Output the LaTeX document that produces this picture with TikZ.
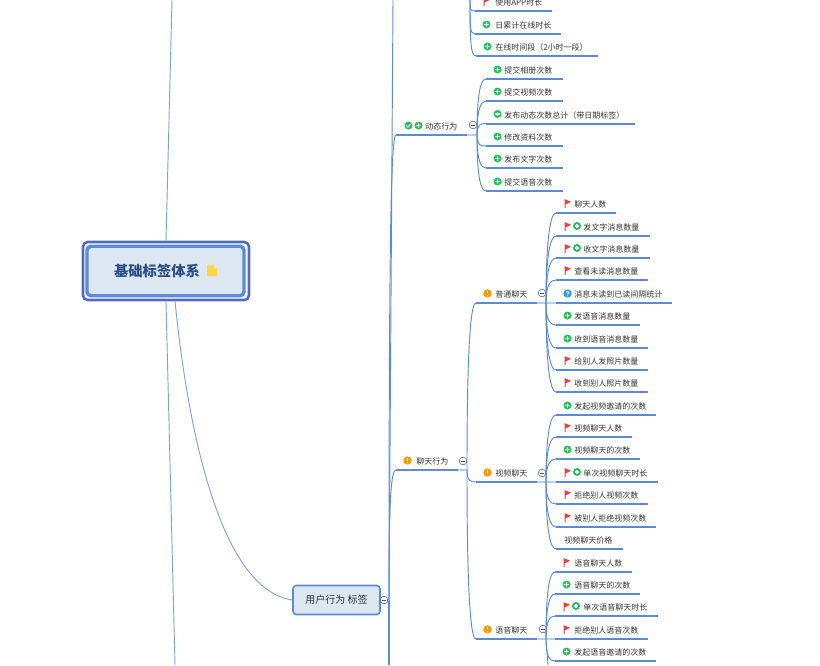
\documentclass[tikz,border=0pt]{standalone}
\usepackage{fontspec}
\setmainfont{Noto Sans CJK SC}
\definecolor{linkblue}{HTML}{7BA3DB}
\definecolor{lineblue}{HTML}{5B8BD6}
\definecolor{paleblue}{HTML}{B9CFEE}
\definecolor{frameblue}{HTML}{5468BC}
\definecolor{boxblue}{HTML}{DDE7F2}
\definecolor{titleblue}{HTML}{2A4D85}
\definecolor{okgreen}{HTML}{1FC255}
\definecolor{flagred}{HTML}{E8423F}
\definecolor{warnorange}{HTML}{F39C12}
\definecolor{askblue}{HTML}{2F9BE8}
\definecolor{noteyellow}{HTML}{FFD54F}
\newdimen\pxu
\pxu=0.75pt
\tikzset{
  leafbox/.style={anchor=south west, inner xsep=0pt, inner ysep=2.5pt, text height=4.9pt, text depth=1.1pt, font=\fontsize{6}{7}\selectfont, text=black!80},
  leafline/.style={draw=lineblue, line width=1.5pt},
  branch/.style={draw=lineblue, line width=0.7pt},
  stub/.style={draw=paleblue, line width=1.5pt},
  rootlink/.style={draw=linkblue, line width=0.7pt},
  foldmark/.style={circle, draw=black!35!lineblue, fill=white, line width=0.4pt, inner sep=0pt, minimum size=5.8pt,
    path picture={\draw[black!35!lineblue, line width=0.4pt] ([xshift=1.2pt]path picture bounding box.west) -- ([xshift=-1.2pt]path picture bounding box.east);}},
  pics/noicon/.style={code={}},
  pics/flagicon/.style={code={
    \fill[flagred] (-2.9,-4.4) -- (3.6,-1.7) -- (-1.9,0.9) -- (-1.9,4.6) -- (-3,4.6) -- cycle;}},
  pics/plusicon/.style={code={
    \fill[okgreen] (0,0) circle (4);
    \draw[white, line width=0.8pt] (-2.2,0) -- (2.2,0) (0,-2.2) -- (0,2.2);}},
  pics/checkicon/.style={code={
    \fill[okgreen] (0,0) circle (4);
    \draw[white, line width=0.7pt] (-2.1,0) -- (-0.5,1.6) -- (2.1,-1.5);}},
  pics/warnicon/.style={code={
    \fill[warnorange] (0,0) circle (4.2);
    \draw[white, line width=0.8pt] (0,-2.5) -- (0,0.8);
    \fill[white] (0,2.2) circle (0.6);}},
  pics/askicon/.style={code={
    \fill[askblue] (0,0) circle (4.2);
    \draw[white, line width=0.6pt] (-1.3,-1) .. controls (-1,-2.7) and (1.5,-2.7) .. (1.3,-0.9) .. controls (1.2,0) and (0,0) .. (0,1);
    \fill[white] (0,2.3) circle (0.5);}},
  pics/flagplus/.style={code={
    \pic at (0,0) {flagicon};
    \pic at (9.5,-0.5) {plusicon};}},
  pics/checkplus/.style={code={
    \pic at (1,0) {checkicon};
    \pic at (11,0) {plusicon};}},
  pics/noteicon/.style={code={
    \fill[noteyellow] (-5,-5.5) -- (2,-5.5) -- (5,-2.5) -- (5,5.5) -- (-5,5.5) -- cycle;
    \fill[noteyellow!50!white] (2,-5.5) -- (5,-2.5) -- (2,-2.5) -- cycle;}}
}
% name, line start, line end, line y, text indent, text, icon
\newcommand{\leaf}[7]{
  \node[leafbox, text width={(#3-#2)*\pxu}] (#1) at (#2, #4) {\mbox{\hspace*{#5\pxu}#6}};
  \draw[leafline] (#1.south west) -- (#1.south east);
  \pic at ([shift={(11.5,-9.5)}]#1.south west) {#7};
}
\begin{document}
\begin{tikzpicture}[x=0.75pt, y=-0.75pt]
  \useasboundingbox (0, 0) rectangle (820, 665);

  \node[draw=frameblue, line width=1.9pt, rounded corners=3.5pt, minimum width=166\pxu, minimum height=58\pxu] (rootframe) at (166, 271) {};
  \node[draw=lineblue, fill=boxblue, line width=2.6pt, rounded corners=3pt, minimum width=157\pxu, minimum height=49.5\pxu, text=titleblue, font=\fontsize{10.7}{12}\selectfont\bfseries] (root) at (165.5, 271) {\raisebox{-0.75pt}{基础标签体系}\hspace*{17\pxu}};
  \pic at (212, 270.5) {noteicon};
  \node[draw=lineblue, fill=boxblue, line width=1.2pt, rounded corners=2.5pt, minimum width=87\pxu, minimum height=29\pxu, text=black!80, font=\fontsize{7.5}{9}\selectfont] (behavior) at (336.5, 600) {用户行为 标签};

  \coordinate (roottop) at (172, 0);
  \coordinate (rootbottom) at (175, 665);
  \draw[rootlink] (rootframe.north) -- (roottop);
  \draw[rootlink] (rootframe.south) -- (rootbottom);
  \draw[rootlink] ([xshift=9\pxu]rootframe.south) .. controls (190, 450) and (225, 590) .. (behavior.west);

  \coordinate (behaviorjoin) at (389, 600);
  \coordinate (behaviortop) at (393, 0);
  \coordinate (behaviorbottom) at (389, 665);
  \draw[branch] (behaviorjoin) -- (behaviortop);
  \draw[leafline] (behaviorjoin) -- (behaviorbottom);
  \draw[stub] (behavior.east) -- (behaviorjoin);
  \node[foldmark] (behaviorfold) at (384, 600) {};

  \leaf{online}{475}{551}{11}{20}{使用APP时长}{flagicon}
  \leaf{dailyonline}{475}{560}{34}{20}{日累计在线时长}{plusicon}
  \leaf{onlinespan}{476}{597}{56}{19}{在线时间段（2小时一段）}{plusicon}
  \coordinate (onlinetop) at (470, 0);
  \foreach \kid in {online, dailyonline, onlinespan}
    \draw[branch] (onlinetop) to[out=270, in=180, out looseness=1.9, in distance=4pt] (\kid.south west);

  \leaf{dynamic}{396}{466}{135}{29}{动态行为}{checkplus}
  \coordinate (dynamicjoin) at (477, 135);
  \draw[stub] (dynamic.south east) -- (dynamicjoin);
  \node[foldmark] (dynamicfold) at (473, 125) {};
  \leaf{album}{486}{562}{79}{18}{提交相册次数}{plusicon}
  \leaf{videopost}{486}{562}{101}{18}{提交视频次数}{plusicon}
  \leaf{postcount}{486}{634}{123.5}{18}{发布动态次数总计（带日期标签）}{plusicon}
  \leaf{profile}{486}{562}{146}{18}{修改资料次数}{plusicon}
  \leaf{textpost}{486}{562}{168}{18}{发布文字次数}{plusicon}
  \leaf{voicepost}{486}{562}{191}{18}{提交语音次数}{plusicon}
  \foreach \kid in {album, videopost, postcount}
    \draw[branch] (dynamicjoin) to[out=90, in=180, out looseness=1.9, in distance=4pt] (\kid.south west);
  \foreach \kid in {profile, textpost, voicepost}
    \draw[branch] (dynamicjoin) to[out=270, in=180, out looseness=1.9, in distance=4pt] (\kid.south west);

  \leaf{chat}{396}{457}{470}{20}{聊天行为}{warnicon}
  \coordinate (chatjoin) at (467, 470);
  \draw[stub] (chat.south east) -- (chatjoin);
  \node[foldmark] (chatfold) at (463, 461) {};
  \foreach \kid in {dynamic, chat}
    \draw[branch] (behaviorjoin) to[out=90, in=180, out looseness=1.9, in distance=4pt] (\kid.south west);

  \leaf{normalchat}{476}{536}{303}{19}{普通聊天}{warnicon}
  \coordinate (normaljoin) at (546, 303);
  \draw[stub] (normalchat.south east) -- (556, 303);
  \node[foldmark] (normalfold) at (542, 293) {};
  \leaf{chatpeople}{556}{615}{213}{18}{聊天人数}{flagicon}
  \leaf{sendtext}{556}{649}{236}{27}{发文字消息数量}{flagplus}
  \leaf{gettext}{556}{649}{258}{27}{收文字消息数量}{flagplus}
  \leaf{unreadview}{556}{647}{280}{18}{查看未读消息数量}{flagicon}
  \leaf{unreadgap}{556}{671}{303}{18}{消息未读到已读间隔统计}{askicon}
  \leaf{sendvoice}{556}{639}{325}{18}{发语音消息数量}{plusicon}
  \leaf{getvoice}{556}{647}{348}{18}{收到语音消息数量}{plusicon}
  \leaf{sendphoto}{556}{647}{370}{18}{给别人发照片数量}{flagicon}
  \leaf{getphoto}{556}{647}{392}{18}{收到别人照片数量}{flagicon}
  \foreach \kid in {chatpeople, sendtext, gettext, unreadview}
    \draw[branch] (normaljoin) to[out=90, in=180, out looseness=1.9, in distance=4pt] (\kid.south west);
  \foreach \kid in {sendvoice, getvoice, sendphoto, getphoto}
    \draw[branch] (normaljoin) to[out=270, in=180, out looseness=1.9, in distance=4pt] (\kid.south west);

  \leaf{videochat}{476}{536}{482}{19}{视频聊天}{warnicon}
  \coordinate (videojoin) at (546, 482);
  \draw[stub] (videochat.south east) -- (556, 482);
  \node[foldmark] (videofold) at (542, 473) {};
  \leaf{videoinvite}{556}{655}{415}{18}{发起视频邀请的次数}{plusicon}
  \leaf{videopeople}{556}{631}{437}{18}{视频聊天人数}{flagicon}
  \leaf{videotimes}{556}{639}{459}{18}{视频聊天的次数}{plusicon}
  \leaf{videolength}{556}{657}{482}{27}{单次视频聊天时长}{flagplus}
  \leaf{videorefuse}{556}{647}{504}{18}{拒绝别人视频次数}{flagicon}
  \leaf{videorefused}{556}{655}{527}{18}{被别人拒绝视频次数}{flagicon}
  \leaf{videoprice}{556}{622}{549}{8}{视频聊天价格}{noicon}
  \foreach \kid in {videoinvite, videopeople, videotimes}
    \draw[branch] (videojoin) to[out=90, in=180, out looseness=1.9, in distance=4pt] (\kid.south west);
  \foreach \kid in {videorefuse, videorefused, videoprice}
    \draw[branch] (videojoin) to[out=270, in=180, out looseness=1.9, in distance=4pt] (\kid.south west);

  \leaf{voicechat}{476}{536}{639}{19}{语音聊天}{warnicon}
  \coordinate (voicejoin) at (546, 639);
  \coordinate (voicetail) at (548, 665);
  \draw[stub] (voicechat.south east) -- (556, 639);
  \node[foldmark] (voicefold) at (543, 629) {};
  \leaf{voicepeople}{555}{631}{572}{19}{语音聊天人数}{flagicon}
  \leaf{voicetimes}{555}{639}{594}{19}{语音聊天的次数}{plusicon}
  \leaf{voicelength}{555}{657}{616}{28}{单次语音聊天时长}{flagplus}
  \leaf{voicerefuse}{555}{647}{639}{19}{拒绝别人语音次数}{flagicon}
  \leaf{voiceinvite}{555}{655}{661}{19}{发起语音邀请的次数}{plusicon}
  \foreach \kid in {voicepeople, voicetimes, voicelength}
    \draw[branch] (voicejoin) to[out=90, in=180, out looseness=1.9, in distance=4pt] (\kid.south west);
  \draw[branch] (voicejoin) to[out=270, in=180, out looseness=1.9, in distance=4pt] (voiceinvite.south west);
  \draw[branch] (voicejoin) -- (voicetail);

  \foreach \kid in {normalchat}
    \draw[branch] (chatjoin) to[out=90, in=180, out looseness=1.9, in distance=4pt] (\kid.south west);
  \foreach \kid in {videochat, voicechat}
    \draw[branch] (chatjoin) to[out=270, in=180, out looseness=1.9, in distance=4pt] (\kid.south west);
\end{tikzpicture}
\end{document}
